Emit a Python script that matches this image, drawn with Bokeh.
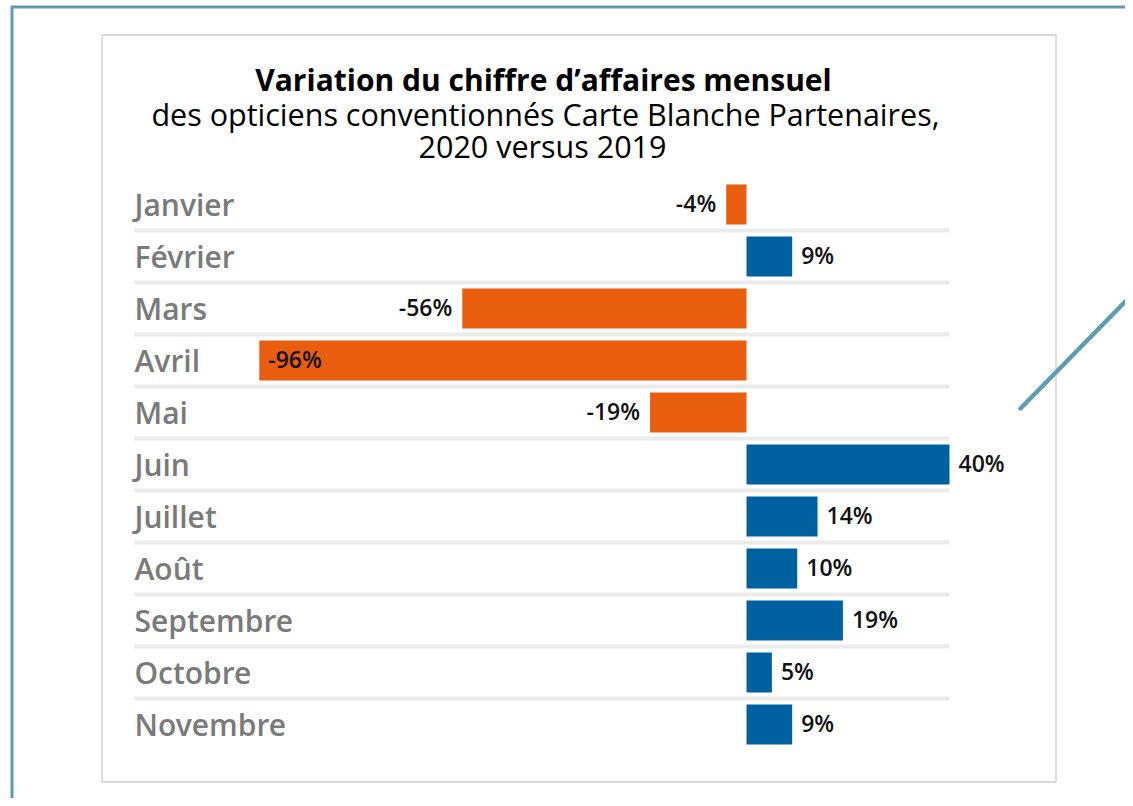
from bokeh.plotting import figure
from bokeh.models import Range1d, ColumnDataSource
from bokeh.core.properties import value
from bokeh.embed import file_html
from bokeh.resources import INLINE

# ---------------- data ----------------
months = ["Janvier", "Février", "Mars", "Avril", "Mai", "Juin", "Juillet",
          "Août", "Septembre", "Octobre", "Novembre"]
variation = [-4, 9, -56, -96, -19, 40, 14, 10, 19, 5, 9]
title_lines = ["Variation du chiffre d\u2019affaires mensuel",
               "des opticiens conventionnés Carte Blanche Partenaires,",
               "2020 versus 2019"]

# ---------------- layout (pixels) ----------------
W, H = 1125, 798
PX0, PY0 = 0, 0
ZERO_X, PX_PER_PCT = 746, 5.075
ROW0_Y, PITCH = 204, 52

ORANGE = "#E95D0F"
BLUE = "#0061A1"
TEAL = "#5d9daf"
FONT = value("Open Sans")
FONT_SEMI = value("Open Sans SemiBold, Open Sans")

p = figure(width=W, height=H, output_backend="svg", toolbar_location=None,
           x_range=Range1d(PX0, PX0 + W), y_range=Range1d(PY0 + H, PY0),
           x_axis_location=None, y_axis_location=None, min_border=0,
           outline_line_color=None, background_fill_color="white",
           border_fill_color="white")
p.grid.visible = False
p.extra_x_ranges = {"pct": Range1d((PX0 - ZERO_X) / PX_PER_PCT,
                                   (PX0 + W - ZERO_X) / PX_PER_PCT)}
p.extra_y_ranges = {"rows": Range1d((PY0 + H - ROW0_Y) / PITCH,
                                    (PY0 - ROW0_Y) / PITCH)}

# outer teal frame
p.line([11.5, 11.5, 1140], [810, 6.5, 6.5], line_color=TEAL, line_width=3,
       line_join="miter")

# inner panel
p.quad(left=[101.5], right=[1055.5], top=[34.5], bottom=[781.5],
       fill_color="white", line_color="#cccccc", line_width=1.3)

# stray diagonal stroke (drawn over the panel)
p.segment(x0=[1020], y0=[408], x1=[1140], y1=[285.6], line_color=TEAL,
          line_width=4.5, line_cap="round")

# separators between rows
n = len(months)
p.segment(x0=[134] * (n - 1), x1=[949] * (n - 1),
          y0=[i + 0.5 for i in range(n - 1)], y1=[i + 0.5 for i in range(n - 1)],
          y_range_name="rows", line_color="#ebebeb", line_width=4)

# bars
rows = list(range(n))
colors = [ORANGE if v < 0 else BLUE for v in variation]
src = ColumnDataSource(dict(row=rows, val=variation, color=colors, month=months))
p.hbar(y="row", left=0, right="val", height=40 / PITCH, fill_color="color",
       line_color=None, source=src, x_range_name="pct", y_range_name="rows")

# month labels
p.text(x=[134] * n, y=rows, text=months, y_range_name="rows", y_offset=0,
       text_font=FONT_SEMI, text_font_size="30px", text_color="#7a7a7a",
       text_align="left", text_baseline="alphabetic")

# value labels
lab_txt, lab_align, lab_off = [], [], []
for v in variation:
    lab_txt.append(f"{v}%")
    if v >= 0:
        lab_align.append("left"); lab_off.append(9)
    elif v < -80:
        lab_align.append("left"); lab_off.append(9)
    else:
        lab_align.append("right"); lab_off.append(-10)
lsrc = ColumnDataSource(dict(row=rows, val=variation, t=lab_txt, a=lab_align, o=lab_off))
p.text(x="val", y="row", text="t", text_align="a", x_offset="o", y_offset=-2,
       source=lsrc, x_range_name="pct", y_range_name="rows",
       text_font=FONT_SEMI, text_font_size="23px", text_color="#111111",
       text_baseline="alphabetic")

# title
p.text(x=[543], y=[79], text=[title_lines[0]], text_font=FONT,
       text_font_style="bold", text_font_size="30px", text_color="#000000",
       text_align="center", text_baseline="alphabetic")
p.text(x=[545, 542], y=[113, 145], text=title_lines[1:], text_font=FONT,
       text_font_size="30.5px", text_color="#000000",
       text_align="center", text_baseline="alphabetic")

open("out.html", "w").write(file_html(p, INLINE))
